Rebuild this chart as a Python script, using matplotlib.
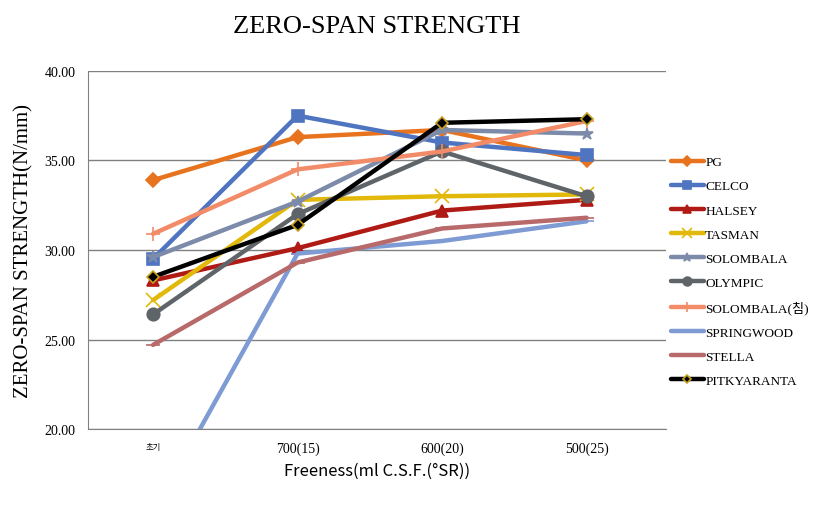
import matplotlib.pyplot as plt

plt.rcParams['font.family'] = ['Liberation Serif', 'Noto Sans CJK KR']

categories = ['초기', '700(15)', '600(20)', '500(25)']

pg = [33.9, 36.3, 36.7, 35.0]
celco = [29.5, 37.5, 36.0, 35.3]
halsey = [28.3, 30.1, 32.2, 32.8]
tasman = [27.2, 32.8, 33.0, 33.1]
solombala = [29.6, 32.7, 36.7, 36.5]
olympic = [26.4, 32.0, 35.5, 33.0]
solombala_chim = [30.9, 34.5, 35.5, 37.2]
springwood = [15.3, 29.8, 30.5, 31.6]
stella = [24.7, 29.3, 31.2, 31.8]
pitkyaranta = [28.5, 31.4, 37.1, 37.3]

series = [
    ('PG', pg, '#E8731E', 'D', 7, '#E8731E'),
    ('CELCO', celco, '#4F74C0', 's', 9, '#4F74C0'),
    ('HALSEY', halsey, '#B01A14', '^', 8, '#B01A14'),
    ('TASMAN', tasman, '#E2B80A', 'x', 10, '#E2B80A'),
    ('SOLOMBALA', solombala, '#7D8BAA', '*', 9, '#7D8BAA'),
    ('OLYMPIC', olympic, '#5F6469', 'o', 9, '#5F6469'),
    ('SOLOMBALA(침)', solombala_chim, '#F28B67', '+', 10, '#F28B67'),
    ('SPRINGWOOD', springwood, '#7F9BD3', '_', 10, '#7F9BD3'),
    ('STELLA', stella, '#B8696A', '_', 10, '#B8696A'),
    ('PITKYARANTA', pitkyaranta, '#000000', 'D', 6, '#C8A020'),
]

fig = plt.figure(figsize=(8.18, 5.06), dpi=100)
ax = fig.add_axes([0.1076, 0.150, 0.7066, 0.708])

x = range(len(categories))
for name, vals, color, marker, ms, edge in series:
    ax.plot(x, vals, color=color, linewidth=3.2, marker=marker, markersize=ms,
            markerfacecolor=color, markeredgecolor=edge, markeredgewidth=1.2,
            label=name, solid_capstyle='round')

ax.set_xlim(-0.45, 3.55)
ax.set_ylim(20, 40)
ax.set_yticks([20, 25, 30, 35, 40])
ax.set_yticklabels(['%.2f' % v for v in [20, 25, 30, 35, 40]], fontsize=10)
ax.set_xticks(list(x))
ax.set_xticklabels(categories, fontsize=10)
ax.get_xticklabels()[0].set_fontsize(6)
ax.get_xticklabels()[0].set_family('Noto Sans CJK KR')
ax.tick_params(length=0, pad=9)
ax.grid(axis='y', color='#808080', linewidth=1)
ax.set_axisbelow(True)
for side in ['top', 'right']:
    ax.spines[side].set_visible(False)
for side in ['left', 'bottom']:
    ax.spines[side].set_color('#808080')

ax.set_title('ZERO-SPAN STRENGTH', fontsize=19, pad=28)
ax.set_ylabel('ZERO-SPAN STRENGTH(N/mm)', fontsize=15, labelpad=8)
ax.set_xlabel('Freeness(ml C.S.F.(°SR))', fontsize=12, family='Noto Sans CJK KR', labelpad=5)

leg = ax.legend(loc='center left', bbox_to_anchor=(0.988, 0.44), frameon=False, fontsize=9.5,
                handlelength=2.5, labelspacing=0.9, handletextpad=0.1, markerscale=0.7)

fig.savefig('out.png', dpi=100)
